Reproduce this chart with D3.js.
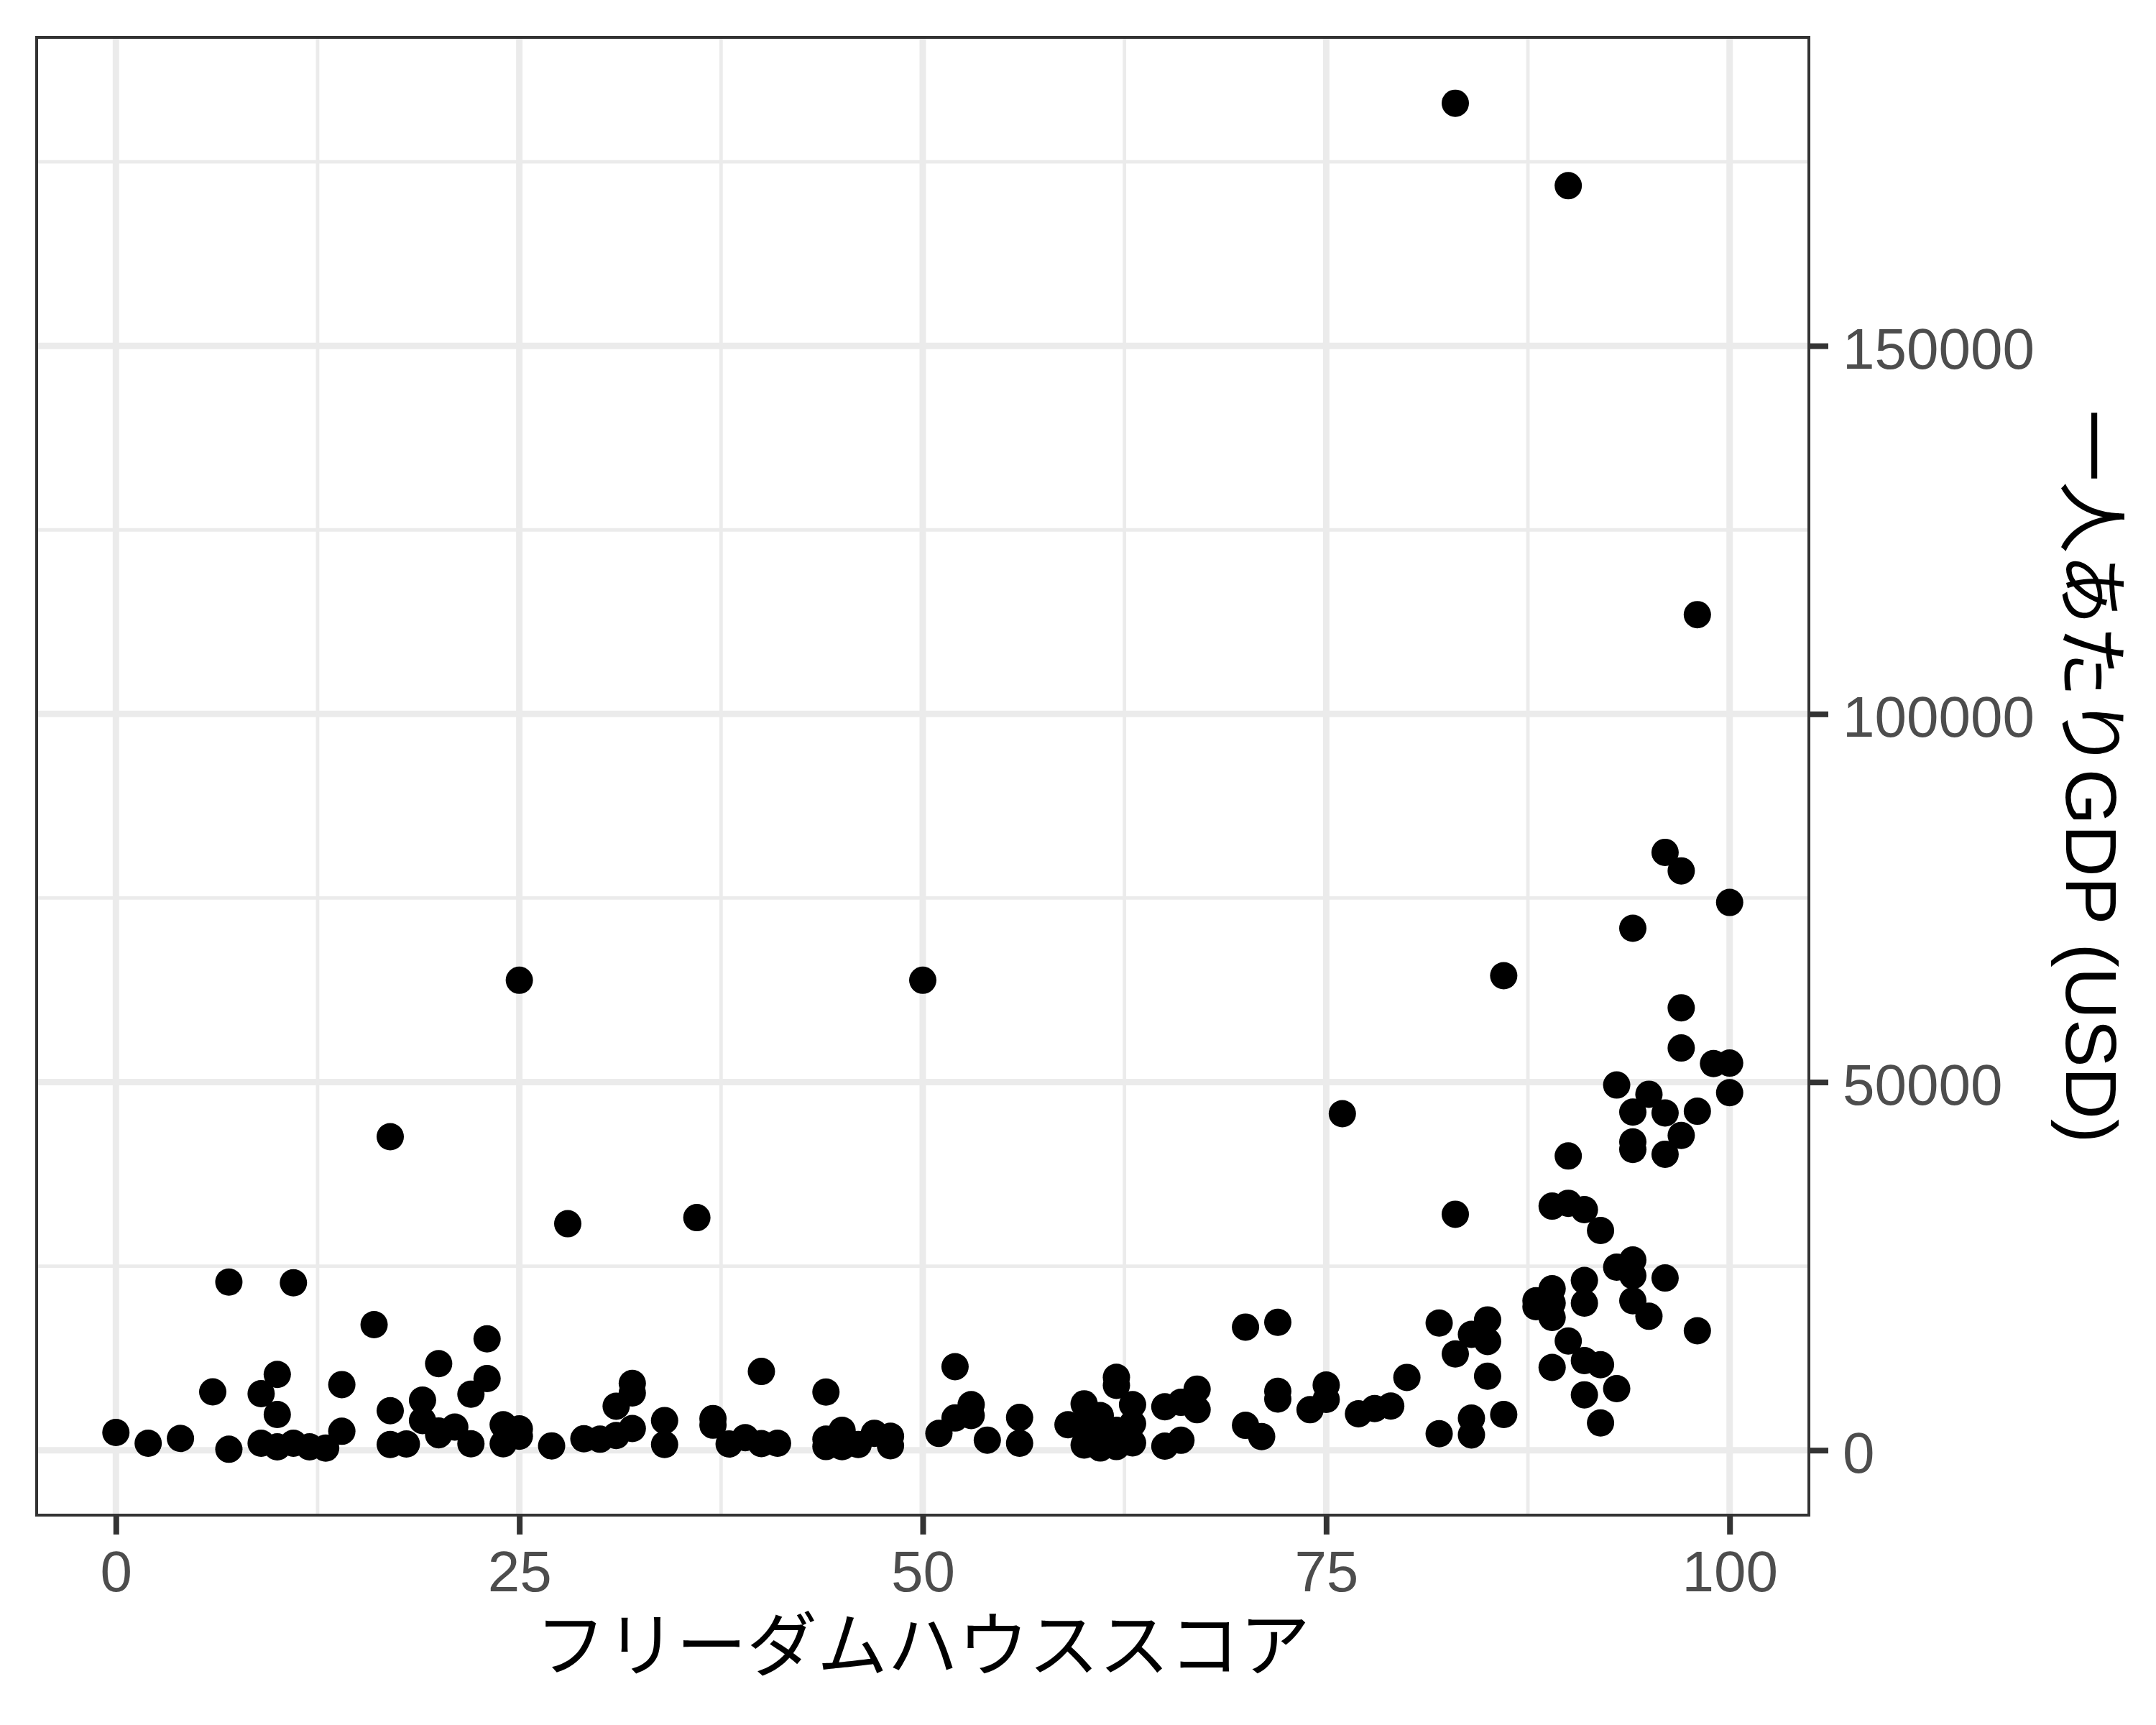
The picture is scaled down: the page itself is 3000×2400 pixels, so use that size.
<!DOCTYPE html>
<html>
<head>
<meta charset="utf-8">
<script src="https://cdn.jsdelivr.net/npm/d3@7"></script>
<style>
  html, body { margin: 0; padding: 0; background: #ffffff; }
  svg { display: block; }
</style>
</head>
<body>
<svg id="chart" width="3000" height="2400"></svg>
<script>
// ---- data ----
const freedomScore = [
  0, 2, 4, 6, 7, 7, 9, 9, 10, 10, 10, 11, 11, 12, 13, 14, 14, 16, 17, 17, 17, 18, 19, 19,
  20, 20, 20, 21, 22, 22, 23, 23, 24, 24, 25, 25, 25, 27, 28, 29, 30, 31, 31, 32, 32, 32,
  34, 34, 36, 37, 37, 38, 39, 40, 40, 41, 44, 44, 44, 45, 45, 46, 47, 48, 48, 50, 51, 52,
  52, 53, 53, 54, 56, 56, 59, 60, 60, 60, 61, 61, 61, 62, 62, 62, 62, 63, 63, 63, 65, 65,
  66, 66, 67, 67, 70, 70, 71, 72, 72, 72, 74, 75, 75, 76, 77, 78, 79, 80, 82, 82, 83, 83,
  83, 84, 84, 84, 85, 85, 85, 86, 86, 88, 88, 89, 89, 89, 89, 89, 90, 90, 90, 90, 91, 91,
  91, 91, 91, 92, 92, 92, 93, 93, 93, 94, 94, 94, 94, 94, 94, 94, 95, 95, 96, 96, 96, 96,
  97, 97, 97, 97, 98, 98, 98, 99, 100, 100, 100
];
const gdpPerCapita = [
  2410, 950, 1600, 7920, 22840, 130, 7680, 950, 10290, 4850, 460, 22740, 950, 460, 290, 8910, 2570, 17050, 42580, 5370, 780, 850, 6800, 4030,
  11760, 2600, 2100, 3140, 7610, 870, 15130, 9730, 3460, 870, 63830, 2900, 1900, 590, 30760, 1550, 1500, 5980, 2000, 9080, 7780, 2950,
  4030, 780, 31590, 4300, 3400, 850, 1700, 10700, 900, 950, 7900, 1500, 500, 2700, 480, 780, 2300, 1900, 600, 63830, 2280, 11350,
  4380, 6200, 4700, 1370, 4450, 950, 3460, 6300, 3400, 700, 4700, 1800, 300, 9900, 8800, 2700, 500, 6200, 3600, 1000, 5900, 550,
  6500, 1350, 8300, 5500, 16720, 3380, 1850, 17370, 8000, 6950, 5500, 8850, 6900, 45710, 4950, 5660, 6000, 9890, 17270, 2240, 182950, 32050,
  13080, 15740, 4360, 2080, 17700, 14770, 10050, 64450, 4850, 20300, 19500, 33150, 21930, 19980, 18030, 11250, 171750, 39960, 33540, 14840, 32670, 23060,
  19980, 12170, 7520, 29840, 11610, 3710, 49600, 24860, 8360, 70890, 45920, 41870, 40850, 25840, 23720, 20300, 48350, 18190, 81200, 45800, 40200, 23390,
  78690, 60090, 54630, 42750, 113490, 46040, 16230, 52510, 74400, 52580, 48560
];
const xTicks = [0, 25, 50, 75, 100];
const xMinor = [12.5, 37.5, 62.5, 87.5];
const yTicks = [0, 50000, 100000, 150000];
const yMinor = [25000, 75000, 125000, 175000];
const xTitle = "フリーダムハウススコア";
const yTitle = "一人あたりGDP (USD)";

// ---- layout ----
const W = 3000, H = 2400;
const panel = { left: 49, right: 2519, top: 50, bottom: 2110 };
const fontLatin = "'Liberation Sans', Arial, Helvetica, 'Noto Sans CJK JP', sans-serif";

const svg = d3.select("#chart");
svg.append("rect").attr("width", W).attr("height", H).attr("fill", "#ffffff");

// ggplot-like 5% expansion
function expand(ext) {
  const d = ext[1] - ext[0];
  return [ext[0] - 0.05 * d, ext[1] + 0.05 * d];
}
const x = d3.scaleLinear().domain(expand([0, 100])).range([panel.left, panel.right]);
const y = d3.scaleLinear().domain(expand(d3.extent(gdpPerCapita))).range([panel.bottom, panel.top]);

const data = freedomScore.map((s, i) => ({ s, g: gdpPerCapita[i] }));

// panel background
svg.append("rect")
  .attr("x", panel.left).attr("y", panel.top)
  .attr("width", panel.right - panel.left).attr("height", panel.bottom - panel.top)
  .attr("fill", "#ffffff");

const grid = svg.append("g").attr("stroke", "#EBEBEB");
// minor grid
grid.selectAll("line.xmin").data(xMinor).join("line")
  .attr("x1", d => x(d)).attr("x2", d => x(d))
  .attr("y1", panel.top).attr("y2", panel.bottom).attr("stroke-width", 4.8);
grid.selectAll("line.ymin").data(yMinor).join("line")
  .attr("y1", d => y(d)).attr("y2", d => y(d))
  .attr("x1", panel.left).attr("x2", panel.right).attr("stroke-width", 4.8);
// major grid
grid.selectAll("line.xmaj").data(xTicks).join("line")
  .attr("x1", d => x(d)).attr("x2", d => x(d))
  .attr("y1", panel.top).attr("y2", panel.bottom).attr("stroke-width", 9);
grid.selectAll("line.ymaj").data(yTicks).join("line")
  .attr("y1", d => y(d)).attr("y2", d => y(d))
  .attr("x1", panel.left).attr("x2", panel.right).attr("stroke-width", 9);

// points
svg.append("g").selectAll("circle").data(data).join("circle")
  .attr("cx", d => x(d.s))
  .attr("cy", d => y(d.g))
  .attr("r", 19)
  .attr("fill", "#000000");

// panel border (half visible, as ggplot clips it)
svg.append("rect")
  .attr("x", panel.left + 2).attr("y", panel.top + 2)
  .attr("width", panel.right - panel.left - 4).attr("height", panel.bottom - panel.top - 4)
  .attr("fill", "none").attr("stroke", "#333333").attr("stroke-width", 4);

// bottom axis
const xAxis = d3.axisBottom(x).tickValues(xTicks).tickSize(25).tickPadding(22).tickFormat(d3.format("d"));
const gx = svg.append("g").attr("transform", `translate(0,${panel.bottom})`).call(xAxis);
gx.select(".domain").remove();
gx.selectAll(".tick line").attr("stroke", "#333333").attr("stroke-width", 8);
gx.selectAll(".tick text")
  .attr("fill", "#4D4D4D")
  .style("font-family", fontLatin)
  .style("font-size", "80px");

// right axis
const yAxis = d3.axisRight(y).tickValues(yTicks).tickSize(25).tickPadding(20).tickFormat(d3.format("d"));
const gy = svg.append("g").attr("transform", `translate(${panel.right},0)`).call(yAxis);
gy.select(".domain").remove();
gy.selectAll(".tick line").attr("stroke", "#333333").attr("stroke-width", 8);
gy.selectAll(".tick text")
  .attr("fill", "#4D4D4D")
  .attr("dy", "0.39em")
  .style("font-family", fontLatin)
  .style("font-size", "80px");

// axis titles
svg.append("text")
  .attr("x", (panel.left + panel.right) / 2)
  .attr("y", 2324)
  .attr("text-anchor", "middle")
  .attr("fill", "#000000")
  .style("font-family", "'Noto Sans CJK JP', sans-serif")
  .style("font-size", "98px")
  .text(xTitle);

svg.append("text")
  .attr("transform", `translate(2875,${(panel.top + panel.bottom) / 2}) rotate(90)`)
  .attr("text-anchor", "middle")
  .attr("fill", "#000000")
  .style("font-family", fontLatin)
  .style("font-size", "100px")
  .text(yTitle);
</script>
</body>
</html>
